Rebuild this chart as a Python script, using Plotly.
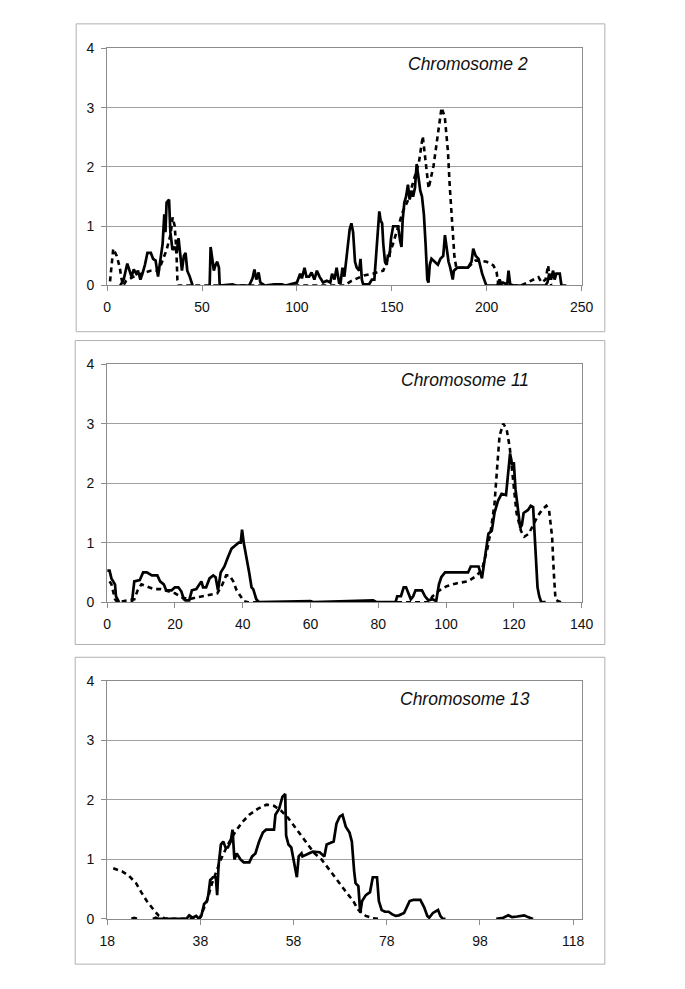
import plotly.graph_objects as go

# ---------------- data (None = gap in the profile) ----------------
chr2_solid = [
    (6.9, 0), (8.7, 0.1), (10.6, 0.37), (11.9, 0.25), (12.8, 0.15), (14.0, 0.27), (15.3, 0.2), (16.2, 0.25),
    (17.5, 0.1), (18.6, 0.2), (19.9, 0.35), (21.2, 0.55), (23.0, 0.55), (24.2, 0.45), (25.5, 0.42), (26.8, 0.15),
    (27.9, 0.4), (29.2, 0.7), (30.1, 1.2), (30.7, 0.9), (31.3, 1.4), (32.6, 1.45), (33.3, 0.9), (34.4, 0.6),
    (35.7, 0.65), (36.6, 0.55), (37.6, 0.8), (38.5, 0.45), (39.4, 0.25), (40.4, 0.5), (41.3, 0.55), (42.2, 0.25),
    (43.5, 0.15), (45.0, 0), (49.5, None), (54.0, 0), (54.5, 0.65), (55.4, 0.45), (56.2, 0.25), (57.1, 0.35),
    (58.0, 0.4), (58.9, 0.3), (59.3, 0), (66, 0.02), (68, 0), (74.8, 0), (76.6, 0.12), (77.6, 0.27), (78.6, 0.1),
    (79.8, 0.22), (80.7, 0.05), (82.2, 0.02), (83, 0), (88, 0.02), (92, 0.02), (94, 0), (100.0, 0.05),
    (101.7, 0.2), (102.6, 0.12), (104.0, 0.3), (105.0, 0.15), (106.4, 0.15), (107.7, 0.22), (109.2, 0.1),
    (110.5, 0.25), (111.9, 0.15), (113.8, 0.05), (115.7, 0.08), (117.6, 0.05), (118.5, 0.2), (119.8, 0.1),
    (120.9, 0.3), (122.2, 0.05), (123.0, 0.05), (124.0, 0.3), (125.0, 0.15), (125.9, 0.4), (126.9, 0.6),
    (127.8, 0.95), (128.7, 1.05), (129.6, 0.9), (130.6, 0.4), (131.5, 0.3), (132.8, 0.25), (133.5, 0.45),
    (134.2, 0.1), (134.9, 0.02), (138.0, 0.02), (139.5, 0.1), (140.8, 0.1), (141.7, 0.5), (142.7, 1.0),
    (143.4, 1.25), (144.1, 1.1), (144.9, 1.05), (145.5, 0.7), (146.4, 0.4), (147.3, 0.35), (147.9, 0.5),
    (148.8, 0.5), (149.6, 0.8), (150.7, 1.0), (152.0, 1.0), (153.3, 1.0), (154.4, 0.75), (155.1, 0.65),
    (155.7, 1.1), (156.6, 1.4), (157.5, 1.5), (158.5, 1.7), (159.4, 1.45), (160.3, 1.6), (161.2, 1.5),
    (162.2, 1.65), (163.1, 2.05), (164.0, 1.8), (165.0, 1.6), (165.9, 1.5), (166.9, 1.2), (167.8, 0.7),
    (168.7, 0.1), (169.3, 0.05), (170.0, 0.35), (170.9, 0.45), (172.4, 0.4), (174.3, 0.35), (175.6, 0.45),
    (177.1, 0.5), (178.0, 0.85), (178.9, 0.6), (179.9, 0.4), (180.8, 0.3), (182.1, 0.1), (182.7, 0.25),
    (184.5, 0.3), (188.2, 0.3), (190.1, 0.3), (192.0, 0.4), (192.9, 0.62), (194.2, 0.5), (195.7, 0.45),
    (197.6, 0.2), (199.0, 0.05), (199.8, 0), (205.5, 0), (206.8, 0.1), (207.7, 0.02), (208.6, 0.05),
    (210.8, 0.02), (211.5, 0.25), (212.4, 0.02), (214, 0), (231, 0), (232.0, 0.05), (233.0, 0.2), (233.9, 0.1),
    (235.0, 0.25), (235.8, 0.1), (236.7, 0.2), (238.5, 0.2), (239.4, 0), (242, 0),
]
chr2_dash = [
    (1.5, 0.07), (2.5, 0.45), (3.2, 0.62), (5, 0.5), (6.6, 0.31), (7.5, 0.12), (8.5, 0), (10, 0.08),
    (14, 0.15), (18, 0.2), (22.8, 0.25), (27.1, 0.25), (29.5, 0.45), (31.3, 0.6), (33.4, 0.86), (34.5, 1.15),
    (35.6, 1.0), (36.5, 0.56), (37, 0.09), (37.5, 0), (60, 0), (125, 0), (128.3, 0.07), (135.3, 0.17),
    (140, 0.2), (145.5, 0.25), (150.6, 0.7), (155.8, 1.25), (158.3, 1.42), (161, 1.7), (164.3, 2.08),
    (166.3, 2.52), (167.5, 2.2), (169.4, 1.64), (172, 2.02), (174.5, 2.63), (176.2, 3.0), (177.9, 2.85),
    (179.6, 2.25), (180.5, 1.69), (181.3, 1.25), (182.2, 0.81), (183, 0.48), (184, 0.3), (190, 0.3),
    (194, 0.42), (196.6, 0.42), (200, 0.4), (203.5, 0.34), (205.2, 0.23), (206, 0.05), (207, 0), (218, 0),
    (222, 0.06), (227.3, 0.14), (229, 0.05), (231, 0.1), (232.4, 0.34), (233, 0.15), (234, 0),
]

chr11_solid = [
    (0, 0.53), (0.7, 0.53), (1.25, 0.4), (1.8, 0.35), (2.3, 0.3), (2.6, 0.1), (3.1, 0.05), (3.5, 0),
    (5.4, None), (7.3, 0), (8.0, 0.35), (9.6, 0.37), (10.6, 0.5), (11.7, 0.5), (13.2, 0.45), (14.8, 0.45),
    (15.6, 0.35), (16.7, 0.3), (17.4, 0.2), (19.0, 0.2), (20.0, 0.25), (21.0, 0.25), (21.9, 0.18), (22.6, 0.05),
    (23.1, 0.03), (24.2, 0.03), (25.0, 0.2), (26.3, 0.22), (27.3, 0.3), (27.8, 0.35), (28.3, 0.25),
    (29.2, 0.25), (30.2, 0.4), (31.3, 0.45), (32.0, 0.42), (32.7, 0.2), (33.5, 0.5), (34.6, 0.6),
    (35.6, 0.75), (36.7, 0.9), (37.7, 0.95), (38.8, 1.0), (39.4, 1.0), (39.8, 1.22), (40.3, 1.0),
    (41.0, 0.8), (41.9, 0.5), (42.6, 0.25), (43.1, 0.22), (44.0, 0.05), (44.8, 0), (60, 0.02), (61, 0),
    (78.5, 0.03), (79.5, 0), (85.1, 0), (85.6, 0.1), (86.7, 0.1), (87.5, 0.25), (88.2, 0.25), (89.0, 0.15),
    (89.6, 0.05), (90.3, 0.1), (91.0, 0.2), (92.9, 0.2), (93.8, 0.1), (94.8, 0.03), (96.0, 0.05),
    (97.1, 0.02), (97.9, 0.3), (98.6, 0.42), (99.7, 0.5), (101.3, 0.5), (106.5, 0.5), (107.3, 0.6),
    (109.6, 0.6), (110.1, 0.5), (110.6, 0.4), (111.1, 0.6), (111.9, 0.95), (112.5, 1.15), (113.5, 1.2),
    (114.3, 1.5), (115.3, 1.7), (116.4, 1.82), (117.7, 1.8), (118.4, 2.3), (118.9, 2.5), (119.5, 2.3),
    (120.0, 2.35), (120.5, 1.9), (121.3, 1.5), (121.9, 1.25), (122.4, 1.3), (122.9, 1.5), (124.2, 1.55),
    (125.0, 1.62), (125.7, 1.6), (126.3, 1.0), (127.0, 0.25), (127.5, 0.1), (128.1, 0), (129.4, 0),
]
chr11_dash = [
    (0.7, 0.35), (1.25, 0.3), (2.3, 0.05), (3, 0), (8.0, 0.05), (9.0, 0.2), (10.1, 0.3), (12.2, 0.25),
    (13.8, 0.22), (15.8, 0.22), (17.9, 0.18), (20.0, 0.15), (22.1, 0.08), (24.2, 0.05), (26.3, 0.08),
    (29.4, 0.12), (32.5, 0.15), (34.0, 0.3), (35.1, 0.45), (36.1, 0.45), (37.2, 0.35), (38.2, 0.2),
    (39.3, 0.1), (40.3, 0.02), (41.5, 0), (95, 0), (96.0, 0.1), (98.1, 0.2), (100.2, 0.27), (103.3, 0.32),
    (106.5, 0.35), (109.1, 0.45), (110.6, 0.55), (112.2, 0.9), (113.2, 1.2), (114.3, 1.65), (115.0, 2.2),
    (115.8, 2.8), (116.9, 3.0), (117.9, 2.9), (118.8, 2.6), (119.8, 2.1), (120.8, 1.5), (122.1, 1.2),
    (123.1, 1.1), (124.4, 1.15), (125.7, 1.3), (127.1, 1.45), (128.3, 1.55), (129.6, 1.62), (130.4, 1.55),
    (131.3, 1.1), (131.8, 0.5), (132.3, 0.05), (133.0, 0.02), (134.0, 0),
]

chr13_solid = [
    (23.2, 0), (23.8, 0.015), (24.4, 0), (26.0, None), (27.8, 0), (28.4, 0.02), (29, 0), (35.0, 0), (35.6, 0.06),
    (36.3, 0.02), (37.1, 0.05), (37.7, 0), (38.2, 0.05), (38.8, 0.25), (39.4, 0.3), (39.7, 0.4), (40.1, 0.65),
    (40.7, 0.7), (41.3, 0.7), (41.6, 0.4), (41.9, 0.9), (42.4, 1.25), (42.9, 1.3), (43.4, 1.2), (43.9, 1.2),
    (44.5, 1.3), (44.9, 1.5), (45.3, 1.0), (45.8, 1.1), (46.6, 1.0), (47.3, 0.95), (48.5, 0.95), (49.1, 1.05),
    (49.8, 1.1), (50.6, 1.3), (51.4, 1.45), (52.1, 1.5), (53.8, 1.5), (54.1, 1.75), (54.9, 1.85),
    (55.6, 2.05), (56.2, 2.1), (56.4, 1.4), (56.9, 1.25), (57.5, 1.2), (58.1, 0.95), (58.7, 0.7),
    (59.1, 1.05), (59.7, 1.1), (59.9, 1.05), (61.3, 1.1), (62.1, 1.13), (63.6, 1.12), (64.6, 1.05),
    (65.1, 1.25), (66.6, 1.3), (67.2, 1.6), (67.9, 1.72), (68.5, 1.75), (69.2, 1.55), (70.0, 1.45),
    (70.5, 1.3), (71.0, 0.8), (71.3, 0.6), (71.9, 0.55), (72.3, 0.1), (72.7, 0.3), (73.5, 0.4), (74.4, 0.45),
    (75.0, 0.7), (75.9, 0.7), (76.3, 0.3), (76.9, 0.15), (77.6, 0.12), (78.4, 0.12), (79.1, 0.08),
    (79.9, 0.05), (80.6, 0.06), (81.7, 0.1), (82.9, 0.3), (83.7, 0.32), (85.2, 0.32), (86.0, 0.2),
    (86.7, 0.05), (87.1, 0.02), (87.9, 0.1), (89.0, 0.15), (89.5, 0.05), (90.0, 0), (90.6, 0), (96.0, None),
    (101.5, 0), (103.0, 0.02), (104.1, 0.06), (104.9, 0.03), (106.0, 0.04), (107.5, 0.06), (108.3, 0.03),
    (109.4, 0),
]
chr13_dash = [
    (19.3, 0.85), (21.2, 0.8), (22.7, 0.72), (24.2, 0.6), (25.3, 0.45), (26.5, 0.3), (28.0, 0.15),
    (29.1, 0.05), (30.3, 0.01), (31.5, 0), (37.8, 0), (39.4, 0.3), (40.5, 0.6), (42.4, 1.0), (43.9, 1.25),
    (45.4, 1.45), (46.9, 1.62), (48.5, 1.75), (50.3, 1.85), (52.2, 1.92), (53.8, 1.9), (55.3, 1.82),
    (56.8, 1.7), (58.7, 1.5), (60.6, 1.3), (62.5, 1.1), (64.0, 1.0), (65.5, 0.85), (67.4, 0.65),
    (69.3, 0.45), (70.8, 0.3), (71.9, 0.15), (73.5, 0.05), (75.0, 0.01), (76.5, 0),
]

titles = ["Chromosome 2", "Chromosome 11", "Chromosome 13"]
x_ranges = [[0, 250], [0, 140], [18, 119.8]]
x_ticks = [[0, 50, 100, 150, 200, 250], [0, 20, 40, 60, 80, 100, 120, 140], [18, 38, 58, 78, 98, 118]]
y_ticks = [0, 1, 2, 3, 4]

panels = [(chr2_solid, chr2_dash), (chr11_solid, chr11_dash), (chr13_solid, chr13_dash)]

# ---------------- layout geometry (page pixels; page body has an 8px margin) ----------------
OFF = 8
W, H = 685 - 2 * OFF, 989 - 2 * OFF
plot_x = (102 - OFF, 591 - OFF)
plot_y = [(41 - OFF, 282 - OFF), (362 - OFF, 604 - OFF), (684 - OFF, 926 - OFF)]
boxes = [(70, 16, 615, 329), (69, 338, 615, 647), (69, 660, 615, 972)]
title_pos = [(474, 57), (471, 378), (471, 702)]

fig = go.Figure()
FONT = "Liberation Sans, Arial, sans-serif"
GRID = "#a0a0a0"
AX = "#8c8c8c"

for i, (solid, dash) in enumerate(panels):
    n = "" if i == 0 else str(i + 1)
    xa, ya = "x" + n, "y" + n
    fig.add_trace(go.Scatter(
        x=[p[0] for p in dash], y=[p[1] for p in dash], mode="lines",
        line=dict(color="black", width=2.6, dash="5px,4px"),
        xaxis=xa, yaxis=ya, showlegend=False, hoverinfo="skip", connectgaps=False))
    fig.add_trace(go.Scatter(
        x=[p[0] for p in solid], y=[p[1] for p in solid], mode="lines",
        line=dict(color="black", width=2.7),
        xaxis=xa, yaxis=ya, showlegend=False, hoverinfo="skip", connectgaps=False))

    y0, y1 = plot_y[i]
    common = dict(showline=True, linecolor=AX, linewidth=1, mirror=True,
                  ticks="outside", ticklen=5, tickcolor=AX, tickwidth=1,
                  tickfont=dict(family=FONT, size=14, color="#111"), zeroline=False)
    fig.update_layout(**{
        "xaxis" + n: dict(domain=[plot_x[0] / W, plot_x[1] / W], range=x_ranges[i],
                          tickvals=x_ticks[i], showgrid=False, anchor=ya,
                          ticklabelstandoff=4, **common),
        "yaxis" + n: dict(domain=[1 - y1 / H, 1 - y0 / H], range=[0, 4], tickvals=y_ticks,
                          showgrid=True, gridcolor=GRID, gridwidth=1, anchor=xa,
                          ticklabelstandoff=4, **common),
    })
    bx0, by0, bx1, by1 = [v - OFF for v in boxes[i]]
    fig.add_shape(type="rect", xref="paper", yref="paper",
                  x0=bx0 / W, x1=bx1 / W, y0=1 - by1 / H, y1=1 - by0 / H,
                  line=dict(color="#b0b0b0", width=1), fillcolor="rgba(0,0,0,0)", layer="below")
    tx, ty = title_pos[i]
    fig.add_annotation(xref="paper", yref="paper", x=(tx - OFF) / W, y=1 - (ty - OFF) / H,
                       text="<i>" + titles[i] + "</i>", showarrow=False,
                       xanchor="center", yanchor="middle",
                       font=dict(family=FONT, size=17.5, color="#111"))

fig.update_layout(width=W, height=H, autosize=False,
                  margin=dict(l=0, r=0, t=0, b=0),
                  paper_bgcolor="white", plot_bgcolor="white")

fig.write_html("out.html", config={"displayModeBar": False})
